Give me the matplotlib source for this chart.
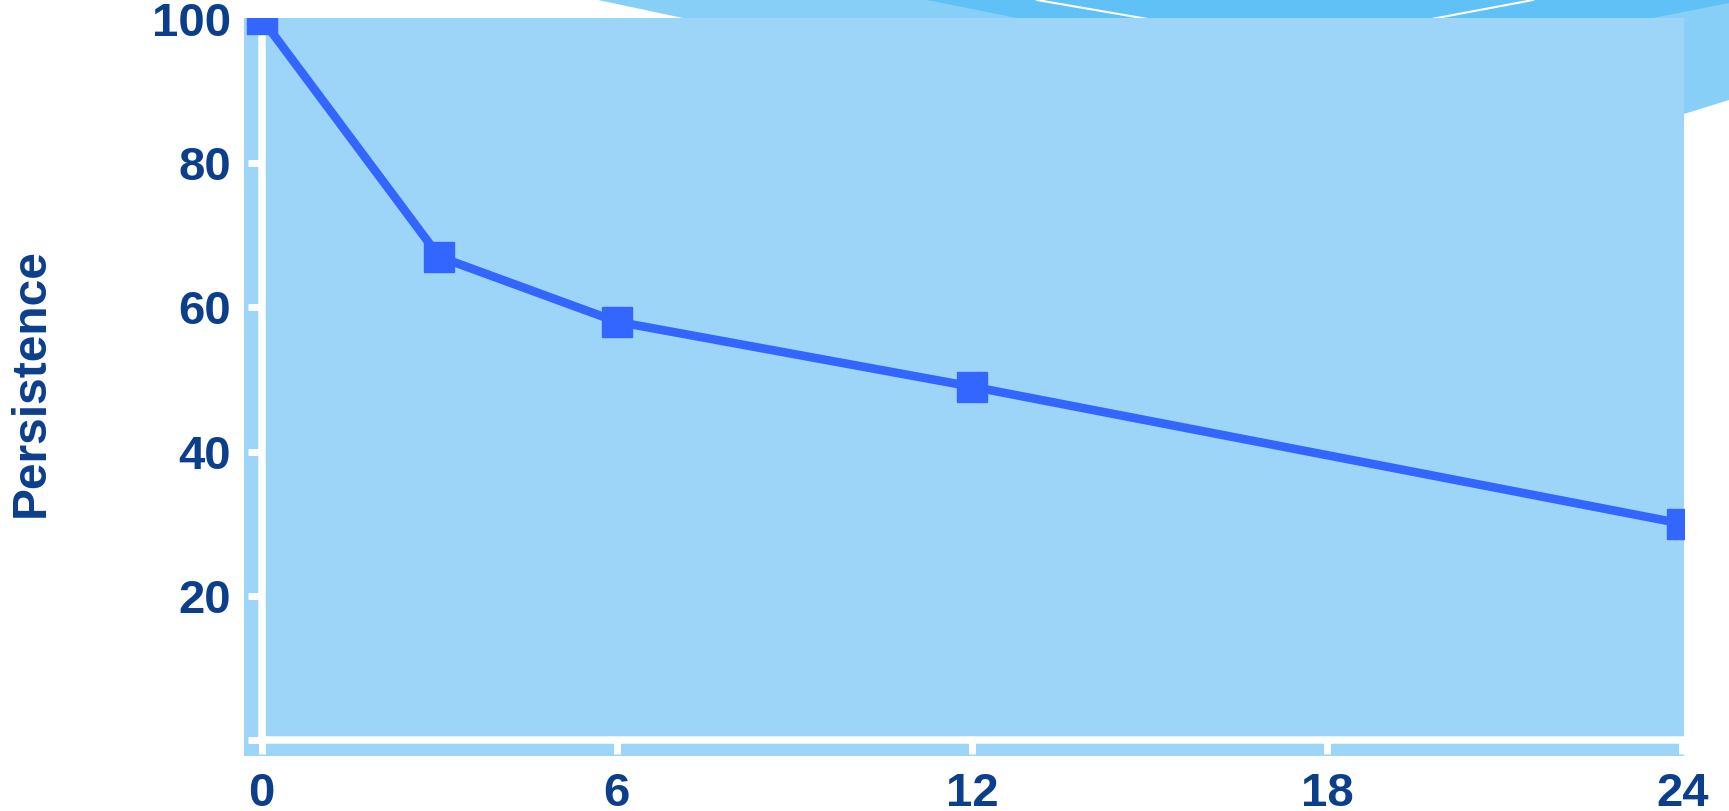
import matplotlib.pyplot as plt
from matplotlib.patches import Polygon

# data
months = [0, 3, 6, 12, 24]
persistence = [100, 67, 58, 49, 30]
x_ticks = [0, 6, 12, 18, 24]
y_ticks = [0, 20, 40, 60, 80, 100]
y_tick_labels = ['', '20', '40', '60', '80', '100']

navy = '#0B3F8C'
line_blue = '#3366FF'
face_blue = '#9DD5F9'

plt.rcParams['font.family'] = ['Liberation Sans', 'DejaVu Sans']
plt.rcParams['font.weight'] = 'bold'

fig = plt.figure(figsize=(17.29, 8.11), dpi=100)

# slide-template decoration behind the plot, drawn in pixel coords
bg = fig.add_axes([0, 0, 1, 1], zorder=0)
bg.set_xlim(0, 1729)
bg.set_ylim(811, 0)
bg.axis('off')
bg.add_patch(Polygon([(598, 0), (1729, 0), (1729, 100), (1600, 140), (1070, 100)],
                     closed=True, facecolor='#87CFF7', lw=0))
bg.add_patch(Polygon([(927, 0), (1729, 0), (1729, 3), (1500, 48), (1102, 35)],
                     closed=True, facecolor='#5FC1F5', lw=0))
bg.plot([1037, 1200], [0, 28], color='white', lw=1.5)
bg.plot([1533, 1380], [0, 28.7], color='white', lw=1.5)

# main plot
ax = fig.add_axes([0.14112, 0.06782, 0.83285, 0.90999], zorder=1)
ax.set_facecolor(face_blue)
ax.plot(months, persistence, color=line_blue, lw=6.2, marker='s', ms=22, zorder=3)

ax.set_xlim(-0.3, 24.03)
ax.set_ylim(-2.2, 100.1)

for side in ['top', 'right']:
    ax.spines[side].set_visible(False)
for side in ['left', 'bottom']:
    ax.spines[side].set_color('white')
    ax.spines[side].set_linewidth(5.4)
    ax.spines[side].set_position(('data', 0))
ax.spines['left'].set_bounds(0, 100.1)
ax.spines['bottom'].set_bounds(0, 24.03)

ax.set_xticks(x_ticks)
ax.set_yticks(y_ticks)
ax.set_yticklabels(y_tick_labels)
ax.tick_params(color='white', width=5, length=10, direction='out',
               labelsize=34, labelcolor=navy)
ax.tick_params(axis='x', pad=13)
ax.tick_params(axis='y', pad=12)
for lab in ax.get_xticklabels() + ax.get_yticklabels():
    lab.set_fontweight('bold')

fig.text(31 / 1729, 1 - 383 / 811, 'Persistence', rotation=90, ha='center', va='center',
         fontsize=34.5, fontweight='bold', color=navy)

fig.savefig('out.png', dpi=100, facecolor='white')
